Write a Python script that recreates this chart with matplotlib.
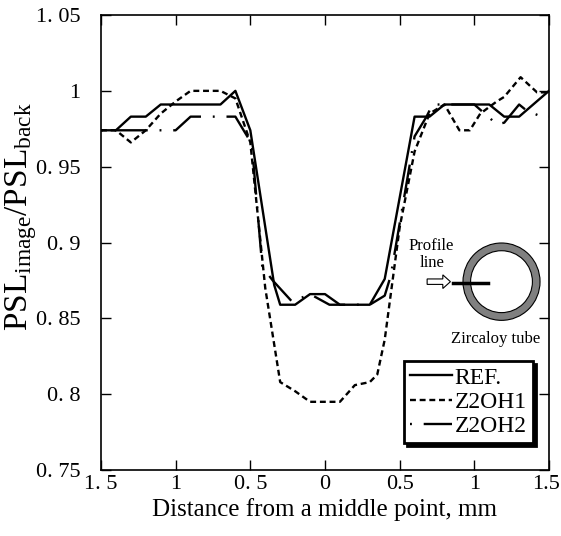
import matplotlib
matplotlib.use("Agg")
import matplotlib.pyplot as plt
from matplotlib.patches import Ellipse, FancyArrow
from matplotlib.transforms import ScaledTranslation

plt.rcParams['font.family'] = ['Liberation Serif', 'DejaVu Serif']
plt.rcParams['mathtext.fontset'] = 'custom'
plt.rcParams['mathtext.rm'] = 'Liberation Serif'
plt.rcParams['mathtext.it'] = 'Liberation Serif:italic'

# profiles (distance in mm, left half negative)
ref_x = [-1.5, -1.4, -1.3, -1.2, -1.1, -0.7, -0.6, -0.5, -0.34, -0.3, -0.2, -0.1,
         0.0, 0.1, 0.3, 0.4, 0.6, 0.7, 0.8, 1.1, 1.2, 1.3, 1.5]
ref_y = [0.974, 0.974, 0.983, 0.983, 0.991, 0.991, 1.0, 0.974, 0.872, 0.859, 0.859, 0.866,
         0.866, 0.859, 0.859, 0.876, 0.983, 0.983, 0.991, 0.991, 0.983, 0.983, 1.0]

z1_x = [-1.5, -1.4, -1.3, -1.2, -1.1, -1.0, -0.9, -0.7, -0.6, -0.5, -0.4, -0.3, -0.2,
        -0.1, 0.1, 0.2, 0.3, 0.35, 0.4, 0.5, 0.6, 0.7, 0.8, 0.9, 0.97, 1.04, 1.15,
        1.2, 1.31, 1.42, 1.5]
z1_y = [0.974, 0.974, 0.966, 0.974, 0.985, 0.993, 1.0, 1.0, 0.995, 0.966, 0.87, 0.808, 0.802,
        0.795, 0.795, 0.806, 0.808, 0.813, 0.836, 0.91, 0.96, 0.985, 0.991, 0.974, 0.974, 0.985, 0.993,
        0.996, 1.009, 0.999, 0.999]

z2_x = [-1.5, -1.0, -0.9, -0.6, -0.49, -0.42, -0.35, -0.22, -0.1, 0.03, 0.3, 0.4, 0.44,
        0.6, 0.68, 0.72, 1.0, 1.15, 1.2, 1.3, 1.35, 1.45, 1.5]
z2_y = [0.974, 0.974, 0.983, 0.983, 0.965, 0.884, 0.875, 0.861, 0.866, 0.859, 0.859, 0.865, 0.878,
        0.97, 0.983, 0.991, 0.991, 0.978, 0.979, 0.991, 0.987, 0.983, 0.983]

x_ticks = [-1.5, -1, -0.5, 0, 0.5, 1, 1.5]
x_labels = ['1. 5', '1', '0. 5', '0', '0.5', '1', '1.5']
y_ticks = [0.75, 0.8, 0.85, 0.9, 0.95, 1.0, 1.05]
y_labels = ['0. 75', '0. 8', '0. 85', '0. 9', '0. 95', '1', '1. 05']

fig = plt.figure(figsize=(5.61, 5.36), dpi=100)
ax = fig.add_axes([0.180, 0.123, 0.7986, 0.849])

ax.plot(ref_x, ref_y, color='black', lw=1.7, label='REF.')
ax.plot(z1_x, z1_y, color='black', lw=1.7, linestyle=(0, (2.5, 1.6)), label='Z2OH1')
ax.plot(z2_x, z2_y, color='black', lw=1.7, linestyle=(0, (0.8, 5, 14, 5)), label='Z2OH2')

ax.set_xlim(-1.5, 1.5)
ax.set_ylim(0.75, 1.05)
ax.set_xticks(x_ticks)
ax.set_xticklabels(x_labels)
ax.set_yticks(y_ticks)
ax.set_yticklabels(y_labels)
ax.tick_params(direction='in', length=7, width=1, top=True, right=True, labelsize=16)
ax.tick_params(axis='x', pad=3.5)
ax.tick_params(axis='y', pad=15)
for s in ax.spines.values():
    s.set_linewidth(1.2)

# last x label sits against the right edge
last = ax.get_xticklabels()[-1]
last.set_transform(last.get_transform() + ScaledTranslation(-0.03, 0, fig.dpi_scale_trans))

ax.set_xlabel('Distance from a middle point, mm', fontsize=18)
ax.xaxis.set_label_coords(0.5, -0.062)
ax.set_ylabel(r'PSL$_{\mathrm{image}}$/PSL$_{\mathrm{back}}$', fontsize=24)
ax.yaxis.set_label_coords(-0.138, 0.556)

leg = ax.legend(loc='lower right', bbox_to_anchor=(0.964, 0.059), borderaxespad=0,
                fontsize=17, handlelength=1.8, handletextpad=0.1, labelspacing=0.12,
                borderpad=0.25, fancybox=False, framealpha=1,
                shadow={'color': 'black', 'alpha': 1})
leg.get_frame().set_edgecolor('black')
leg.get_frame().set_linewidth(2.0)

# zircaloy tube sketch
ax.add_patch(Ellipse((0.894, 0.414), 0.172, 0.170, transform=ax.transAxes,
                     facecolor='#808080', edgecolor='black', lw=0.8))
ax.add_patch(Ellipse((0.894, 0.414), 0.138, 0.136, transform=ax.transAxes,
                     facecolor='white', edgecolor='black', lw=0.8))
ax.plot([0.786, 0.864], [0.412, 0.412], color='black', lw=2.5, transform=ax.transAxes)
ax.add_patch(FancyArrow(0.728, 0.414, 0.035, 0, width=0.012, head_width=0.03,
                        head_length=0.017, transform=ax.transAxes,
                        facecolor='white', edgecolor='black', lw=0.8,
                        length_includes_head=False))
ax.text(0.738, 0.474, 'Profile\nline', transform=ax.transAxes, fontsize=12,
        ha='center', va='center', linespacing=1.1)
ax.text(0.88, 0.288, 'Zircaloy tube', transform=ax.transAxes, fontsize=12,
        ha='center', va='center')

fig.savefig('out.png', dpi=100)
